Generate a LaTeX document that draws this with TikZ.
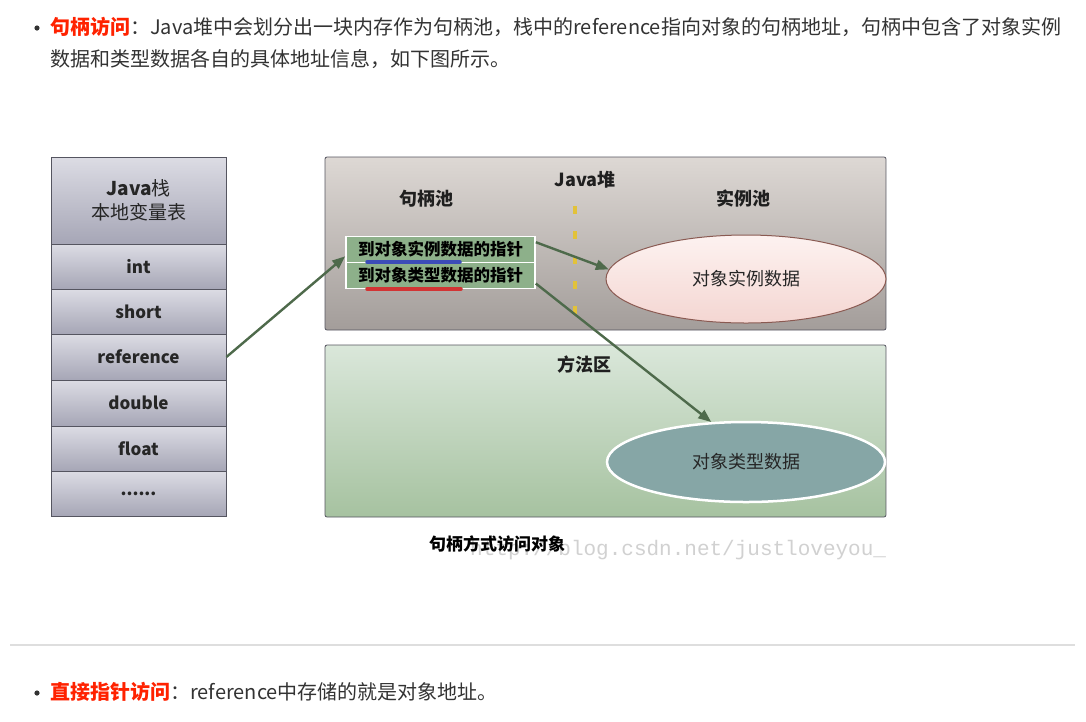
\documentclass[tikz,border=0pt]{standalone}
\usepackage{fontspec}
\setmainfont{Noto Sans CJK SC}
\newfontfamily\wmfont{Liberation Mono}
\usetikzlibrary{shapes.geometric,arrows.meta}
\definecolor{bodytxt}{HTML}{333333}
\definecolor{hlred}{HTML}{FF2200}
\definecolor{arrowgreen}{HTML}{4E6A4B}
\definecolor{cellborder}{HTML}{555560}
\definecolor{celltop}{HTML}{DCDCE4}
\definecolor{cellbot}{HTML}{A6A6B6}
\definecolor{heaptop}{HTML}{DDD8D4}
\definecolor{heapbot}{HTML}{A39D9A}
\definecolor{mtop}{HTML}{DAE7DA}
\definecolor{mbot}{HTML}{A6C2A0}
\definecolor{handlegreen}{HTML}{8DB08A}
\definecolor{dashyellow}{HTML}{E2C23A}
\definecolor{typefill}{HTML}{86A6A6}
\definecolor{instborder}{HTML}{8A5A52}
\definecolor{insttop}{HTML}{FDF2F0}
\definecolor{instbot}{HTML}{F4D6D2}
\definecolor{ulblue}{HTML}{3C4CB8}
\definecolor{ulred}{HTML}{D23434}
\tikzset{
  x=1pt,y=-1pt,
  body/.style={anchor=west,inner sep=0pt,font=\fontsize{20}{22}\selectfont,text=bodytxt},
  stackcell/.style={draw=cellborder,line width=0.8pt,top color=celltop,bottom color=cellbot,minimum width=175,inner sep=0pt,font=\fontsize{17}{19}\selectfont\bfseries,text=black!85},
  areabox/.style={draw=cellborder,line width=0.8pt,rounded corners=2pt},
  heading/.style={font=\fontsize{18}{20}\selectfont\bfseries,text=black!88,inner sep=0pt},
  handle/.style={draw=white,line width=1.6pt,fill=handlegreen,minimum width=189,minimum height=26,inner sep=0pt,font=\fontsize{16.5}{18}\selectfont\bfseries,text=black},
  conn/.style={draw=arrowgreen,line width=2.4pt,-{Triangle[length=13pt,width=10pt]}},
  ellipsetxt/.style={font=\fontsize{18}{20}\selectfont,text=black!85},
}
\begin{document}
\begin{tikzpicture}
\useasboundingbox[fill=white] (0,0) rectangle (1086,721);
% top text
\fill[black!80] (37,28) circle (2.6) coordinate (b1);
\node[body] (t1) at (50,27) {\textcolor{hlred}{\bfseries 句柄访问}：Java堆中会划分出一块内存作为句柄池，栈中的reference指向对象的句柄地址，句柄中包含了对象实例};
\node[body] (t2) at (50,59) {数据和类型数据各自的具体地址信息，如下图所示。};
% stack
\node[stackcell,minimum height=87,font=\fontsize{19}{24}\selectfont,align=center] (hdr) at (138.5,200.5) {{\bfseries Java}栈\\本地变量表};
\node[stackcell,minimum height=45] (int) at (138.5,266.5) {int};
\node[stackcell,minimum height=45] (short) at (138.5,311.5) {short};
\node[stackcell,minimum height=46] (ref) at (138.5,357) {reference};
\node[stackcell,minimum height=46] (dbl) at (138.5,403) {double};
\node[stackcell,minimum height=45] (flt) at (138.5,448.5) {float};
\node[stackcell,minimum height=45] (dots) at (138.5,493.5) {......};
% heap
\path[areabox,top color=heaptop,bottom color=heapbot] (325,157) rectangle (886,330);
\node[heading] (heap) at (585,180) {Java堆};
\node[heading] (hpool) at (426,199) {句柄池};
\node[heading] (ipool) at (743,199) {实例池};
\draw[dashyellow,line width=4pt,dash pattern=on 8pt off 17pt] (575,206) -- (575,322);
% method area
\path[areabox,top color=mtop,bottom color=mbot] (325,345) rectangle (886,517);
\node[heading] (marea) at (584,365) {方法区};
% handles
\node[handle] (h1) at (440.5,249.5) {到对象实例数据的指针};
\node[handle] (h2) at (440.5,275.5) {到对象类型数据的指针};
\draw[ulblue,line width=3.5pt,line cap=round] (367,262) -- (460,262);
\draw[ulred,line width=3.5pt,line cap=round] (367,289) -- (461,289);
% ellipses
\node[ellipse,draw=instborder,line width=1pt,top color=insttop,bottom color=instbot,minimum width=280,minimum height=88,inner sep=0pt,ellipsetxt] (e1) at (746,279) {对象实例数据};
\node[ellipse,draw=white,line width=2.5pt,fill=typefill,minimum width=278,minimum height=80,inner sep=0pt,ellipsetxt] (e2) at (746,462) {对象类型数据};
% connectors
\draw[conn] (ref.east) -- ([yshift=7]h1.south west);
\draw[conn] ([yshift=-6.5]h1.north east) -- (e1.176);
\draw[conn] ([yshift=-8]h2.east) -- (e2.131);
% caption
\node[font=\wmfont\fontsize{21}{22}\selectfont,text=black!18,anchor=west,inner sep=0pt] (wm) at (470,550) {http://blog.csdn.net/justloveyou\_};
\node[heading,font=\fontsize{17}{19}\selectfont\bfseries,text=black] (cap) at (497,544) {句柄方式访问对象};
% rule
\draw[black!13,line width=1.2pt] (10,645) coordinate (r1) -- (1075,645) coordinate (r2);
% bottom text
\fill[black!80] (37,693) circle (2.6) coordinate (b2);
\node[body] (t3) at (50,692) {\textcolor{hlred}{\bfseries 直接指针访问}：reference中存储的就是对象地址。};
\end{tikzpicture}
\end{document}
